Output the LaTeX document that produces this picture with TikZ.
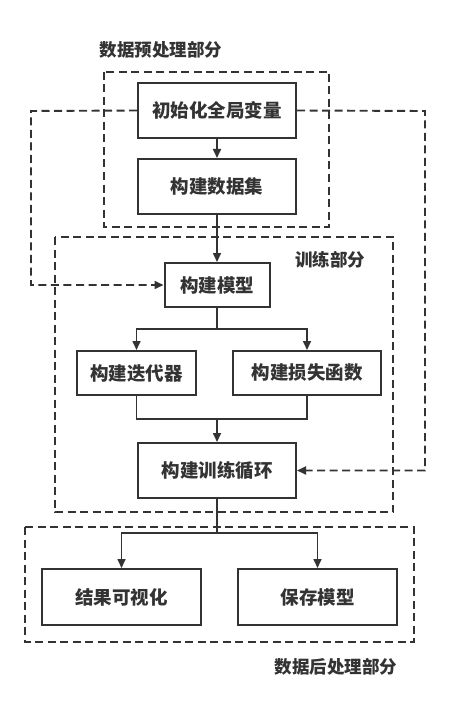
\documentclass[tikz,border=0pt]{standalone}
\usepackage{fontspec}
\newfontfamily\cjk{Noto Sans CJK SC}
\usepackage{tikz}
\usetikzlibrary{positioning,calc,arrows.meta}
\definecolor{ink}{HTML}{333333}
\tikzset{
  stepbox/.style  = {rectangle,draw=ink,line width=2pt,text=ink,
                     font=\cjk\bfseries\fontsize{18.5}{20}\selectfont,inner sep=0pt},
  part/.style     = {draw=ink,line width=1.9pt,dash pattern=on 8pt off 4.5pt},
  partlabel/.style= {text=ink,inner sep=0pt,font=\cjk\bfseries\fontsize{17.5}{19}\selectfont},
  flow/.style     = {draw=ink,line width=1.6pt},
  loopback/.style = {draw=ink,line width=1.9pt,dash pattern=on 8pt off 4.5pt},
  >={Triangle[length=9pt,width=8pt]}
}

\begin{document}
\begin{tikzpicture}[x=1pt,y=-1pt]
    \useasboundingbox (0,0) rectangle (450,714);

    % parts (dashed frames)
    \draw[part] (104,72) rectangle (329,227);
    \draw[part] (55,237) rectangle (393,512);
    \draw[part] (25,527) rectangle (414,642);

    \node[partlabel] (prelabel)   at (161,50)  {数据预处理部分};
    \node[partlabel] (trainlabel) at (330,260) {训练部分};
    \node[partlabel] (postlabel)  at (336,667) {数据后处理部分};

    % steps
    \node[stepbox,minimum width=158pt,minimum height=55pt] (init) at (217,110.5) {初始化全局变量};
    \node[stepbox,minimum width=158pt,minimum height=55pt] (data) at (217,186.5) {构建数据集};
    \node[stepbox,minimum width=105pt,minimum height=44pt] (model) at (217,285) {构建模型};
    \node[stepbox,minimum width=119pt,minimum height=44pt] (iter) at (136.5,373) {构建迭代器};
    \node[stepbox,minimum width=148pt,minimum height=44pt] (loss) at (307,373) {构建损失函数};
    \node[stepbox,minimum width=158pt,minimum height=55pt] (loop) at (217,470.5) {构建训练循环};
    \node[stepbox,minimum width=159pt,minimum height=56pt] (vis) at (121.5,597) {结果可视化};
    \node[stepbox,minimum width=159pt,minimum height=56pt] (save) at (317.5,597) {保存模型};

    % turning points
    \coordinate (lc)     at (31,111);
    \coordinate (rc)     at (425,111);
    \coordinate (split)  at (217,329);
    \coordinate (join)   at (217,419);
    \coordinate (split2) at (217,533);

    % main flow
    \draw[flow,->] (init) -- (data);
    \draw[flow,->] (data) -- (model);
    \draw[flow] (model) -- (split);
    \draw[flow,->] (split) -| (iter);
    \draw[flow,->] (split) -| (loss);
    \draw[flow] (iter) |- (join);
    \draw[flow] (loss) |- (join);
    \draw[flow,->] (join) -- (loop);
    \draw[flow] (loop) -- (split2);
    \draw[flow,->] (split2) -| (vis);
    \draw[flow,->] (split2) -| (save);

    % global variables passed on
    \draw[loopback,->] (init.west) -- (lc) |- (model);
    \draw[loopback,->] (init.east) -- (rc) |- (loop);
\end{tikzpicture}
\end{document}
